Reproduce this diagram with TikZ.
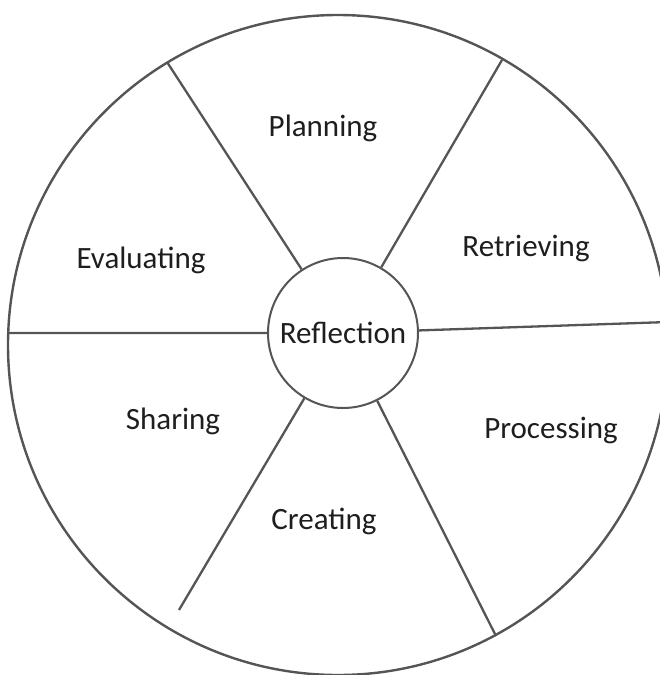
\documentclass[tikz,border=0pt]{standalone}
\usepackage{fontspec}
\setmainfont{Carlito}
\usepackage{tikz}
\usetikzlibrary{positioning, calc}

\definecolor{rimgray}{HTML}{555555}
\definecolor{labelgray}{HTML}{1E1E1E}

\begin{document}
\begin{tikzpicture}[x=1pt, y=-1pt,
    rim/.style={draw=rimgray, line width=2.4pt},
    spoke/.style={draw=rimgray, line width=2.3pt},
    phase/.style={anchor=base, text=labelgray, font=\fontsize{31}{36}\selectfont},
    hub/.style={circle, draw=rimgray, line width=2pt, fill=white, minimum size=150pt, inner sep=0pt, text=labelgray, font=\fontsize{31}{36}\selectfont}]
    \useasboundingbox (0,0) rectangle (659,675);

    \node[circle, rim, minimum size=660pt, inner sep=0pt] (wheel) at (338,345) {};
    \node[hub] (refl) at (343,333) {Reflection};

    \coordinate (ul) at (167,62);
    \coordinate (ur) at (502,60);
    \coordinate (l) at (8,333);
    \coordinate (r) at (668,322);
    \coordinate (ll) at (179,610);
    \coordinate (lr) at (496,636);

    \path[spoke]
    (refl) -- (ul)
        (refl) -- (ur)
    (refl) -- (l)
        (refl) -- (r)
    (refl) -- (ll)
        (refl) -- (lr);

    \node[phase] (plan) at (323,136) {Planning};
    \node[phase] (retr) at (526,256) {Retrieving};
    \node[phase] (eval) at (141,268) {Evaluating};
    \node[phase] (shar) at (173,429) {Sharing};
    \node[phase] (proc) at (551,438) {Processing};
    \node[phase] (crea) at (324,529) {Creating};
\end{tikzpicture}
\end{document}
